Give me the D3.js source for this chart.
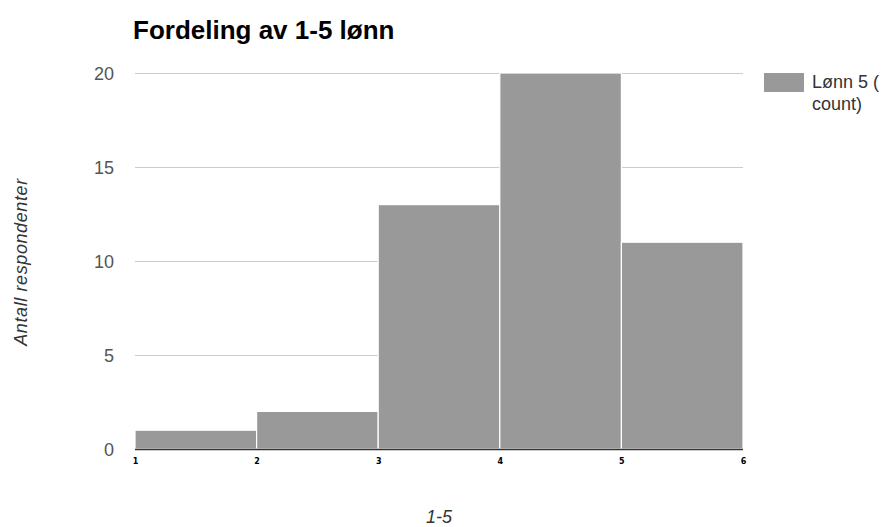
<!DOCTYPE html>
<html lang="en">
<head>
    <meta charset="UTF-8">
    <title>Fordeling av 1-5 lønn</title>
    <script src="https://d3js.org/d3.v7.min.js"></script>
    <style>
        body { margin: 0; background: #fff; }
        text { font-family: "Liberation Sans", Arial, sans-serif; }
    </style>
</head>
<body>
<svg></svg>
<script>
    // histogram bins (from, to) and counts
    const binStarts = [1, 2, 3, 4, 5];
    const binEnds = [2, 3, 4, 5, 6];
    const counts = [1, 2, 13, 20, 11];
    const xTicks = [1, 2, 3, 4, 5, 6];
    const yTicks = [0, 5, 10, 15, 20];

    const width = 891, height = 527;
    const plotLeft = 135, plotRight = 743, plotTop = 73, plotBottom = 449;

    const svg = d3.select("svg")
        .attr("width", width)
        .attr("height", height);

    const x = d3.scaleLinear().domain([1, 6]).range([plotLeft, plotRight]);
    const y = d3.scaleLinear().domain([0, 20]).range([plotBottom, plotTop]);

    // gridlines
    svg.append("g")
        .selectAll("line")
        .data(yTicks)
        .join("line")
        .attr("x1", plotLeft)
        .attr("x2", plotRight)
        .attr("y1", d => Math.round(y(d)) + 0.5)
        .attr("y2", d => Math.round(y(d)) + 0.5)
        .style("stroke", "#cccccc");

    // y tick labels
    svg.append("g")
        .selectAll("text")
        .data(yTicks)
        .join("text")
        .attr("x", plotLeft - 21)
        .attr("y", d => y(d) + 6.5)
        .attr("text-anchor", "end")
        .style("font-size", "18px")
        .style("fill", "#555")
        .text(d => d);

    // bars
    svg.append("g")
        .selectAll("rect")
        .data(counts)
        .join("rect")
        .attr("x", (d, i) => x(binStarts[i]))
        .attr("width", (d, i) => x(binEnds[i]) - x(binStarts[i]))
        .attr("y", d => y(d))
        .attr("height", d => plotBottom - y(d))
        .style("fill", "#999999")
        .style("stroke", "#ffffff")
        .style("stroke-width", 1.2);

    // baseline
    svg.append("line")
        .attr("x1", plotLeft)
        .attr("x2", plotRight)
        .attr("y1", plotBottom + 0.5)
        .attr("y2", plotBottom + 0.5)
        .style("stroke", "#333")
        .style("stroke-width", 1.5);

    // x axis tick labels
    const xAxis = d3.axisBottom(x).tickValues(xTicks).tickSize(0).tickPadding(9).tickFormat(d3.format("d"));
    svg.append("g")
        .attr("transform", `translate(0, ${plotBottom})`)
        .call(xAxis)
        .call(g => g.select(".domain").remove())
        .call(g => g.selectAll("text")
            .style("font-family", "'DejaVu Sans', sans-serif")
            .style("font-size", "8px")
            .style("font-weight", "bold")
            .style("fill", "#000"));

    // title
    svg.append("text")
        .attr("x", 133)
        .attr("y", 39)
        .style("font-size", "26px")
        .style("font-weight", "bold")
        .style("fill", "#000")
        .text("Fordeling av 1-5 lønn");

    // axis titles
    svg.append("text")
        .attr("transform", `translate(27, 262) rotate(-90)`)
        .attr("text-anchor", "middle")
        .style("font-size", "18px")
        .style("font-style", "italic")
        .style("letter-spacing", "0.6px")
        .style("fill", "#333")
        .text("Antall respondenter");

    svg.append("text")
        .attr("x", 439)
        .attr("y", 523)
        .attr("text-anchor", "middle")
        .style("font-size", "18px")
        .style("font-style", "italic")
        .style("fill", "#333")
        .text("1-5");

    // legend
    svg.append("rect")
        .attr("x", 764)
        .attr("y", 73)
        .attr("width", 40)
        .attr("height", 19)
        .style("fill", "#999999");

    svg.append("text")
        .attr("x", 812)
        .attr("y", 88)
        .style("font-size", "18px")
        .style("fill", "#333")
        .text("Lønn 5 (");

    svg.append("text")
        .attr("x", 812)
        .attr("y", 110)
        .style("font-size", "18px")
        .style("fill", "#333")
        .text("count)");
</script>
</body>
</html>
